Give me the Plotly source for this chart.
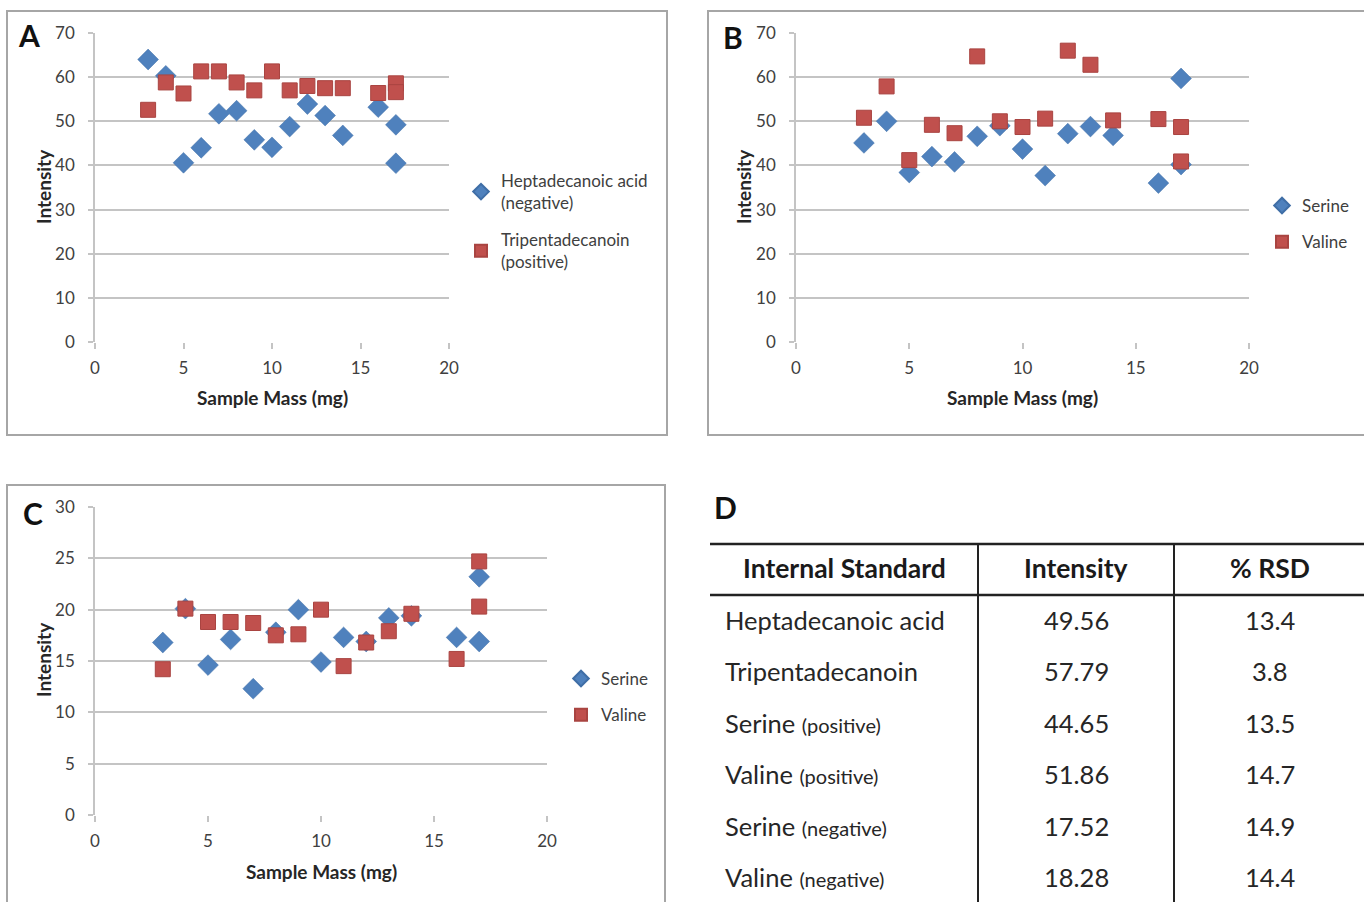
import plotly.graph_objects as go

W, H = 1364, 902

# ---------------- data ----------------
# Panel A
a_hep_x = [3, 4, 5, 6, 7, 8, 9, 10, 11, 12, 13, 14, 16, 17, 17]
a_hep_y = [64.0, 60.3, 40.6, 44.0, 51.7, 52.4, 45.8, 44.1, 48.8, 53.9, 51.3, 46.8, 53.2, 49.2, 40.5]
a_tri_x = [3, 4, 5, 6, 7, 8, 9, 10, 11, 12, 13, 14, 16, 17, 17]
a_tri_y = [52.6, 58.8, 56.3, 61.3, 61.3, 58.8, 57.0, 61.3, 57.0, 58.0, 57.5, 57.5, 56.4, 58.6, 56.6]

# Panel B (positive mode)
b_ser_x = [3, 4, 5, 6, 7, 8, 9, 10, 11, 12, 13, 14, 16, 17, 17]
b_ser_y = [45.1, 50.0, 38.4, 42.0, 40.8, 46.6, 49.0, 43.7, 37.7, 47.2, 48.8, 46.8, 36.0, 59.7, 40.2]
b_val_x = [3, 4, 5, 6, 7, 8, 9, 10, 11, 12, 13, 14, 16, 17, 17]
b_val_y = [50.8, 57.9, 41.2, 49.2, 47.3, 64.7, 50.0, 48.7, 50.6, 66.0, 62.8, 50.2, 50.5, 48.7, 40.9]

# Panel C (negative mode)
c_ser_x = [3, 4, 5, 6, 7, 8, 9, 10, 11, 12, 13, 14, 16, 17, 17]
c_ser_y = [16.8, 20.1, 14.6, 17.1, 12.3, 17.8, 20.0, 14.9, 17.3, 16.9, 19.2, 19.4, 17.3, 23.2, 16.9]
c_val_x = [3, 4, 5, 6, 7, 8, 9, 10, 11, 12, 13, 14, 16, 17, 17]
c_val_y = [14.2, 20.1, 18.8, 18.8, 18.7, 17.5, 17.6, 20.0, 14.5, 16.8, 17.9, 19.6, 15.2, 24.7, 20.3]

# Panel D table
tbl_header = ["Internal Standard", "Intensity", "% RSD"]
tbl_name = ["Heptadecanoic acid", "Tripentadecanoin", "Serine", "Valine", "Serine", "Valine"]
tbl_mode = ["", "", "(positive)", "(positive)", "(negative)", "(negative)"]
tbl_intensity = ["49.56", "57.79", "44.65", "51.86", "17.52", "18.28"]
tbl_rsd = ["13.4", "3.8", "13.5", "14.7", "14.9", "14.4"]

# ---------------- styling ----------------
BLUE = "#4F81BD"
RED = "#C0504D"
GRID = "#C4C4C4"
FONT = "Lato"
TICKC = "#404040"

def px_x(p):
    return p / W

def px_y(p):
    return 1 - p / H

fig = go.Figure()

def add_pair(xa, ya, x1, y1, n1, x2, y2, n2, legend):
    fig.add_trace(go.Scatter(x=x1, y=y1, mode="markers", name=n1,
                             xaxis=xa, yaxis=ya, legend=legend, legendgroup=legend + "1",
                             marker=dict(symbol="diamond", size=16, color=BLUE,
                                         line=dict(color="#3F6EA6", width=0.5))))
    fig.add_trace(go.Scatter(x=x2, y=y2, mode="markers", name=n2,
                             xaxis=xa, yaxis=ya, legend=legend, legendgroup=legend + "2",
                             marker=dict(symbol="square", size=15, color=RED,
                                         line=dict(color="#A94441", width=1))))

add_pair("x", "y", a_hep_x, a_hep_y, "Heptadecanoic acid<br>(negative)",
         a_tri_x, a_tri_y, "Tripentadecanoin<br>(positive)", "legend")
add_pair("x2", "y2", b_ser_x, b_ser_y, "Serine", b_val_x, b_val_y, "Valine", "legend2")
add_pair("x3", "y3", c_ser_x, c_ser_y, "Serine", c_val_x, c_val_y, "Valine", "legend3")

def xaxis(dom, anchor):
    return dict(domain=dom, anchor=anchor, range=[0, 20], tickvals=[0, 5, 10, 15, 20],
                showgrid=False, zeroline=False, showline=False, automargin=False,
                ticks="outside", ticklen=6, tickcolor=GRID, tickwidth=1.5,
                tickfont=dict(family=FONT, size=17, color=TICKC), ticklabelstandoff=5,
                fixedrange=True)

def yaxis(dom, anchor, top, step):
    return dict(domain=dom, anchor=anchor, range=[0, top], dtick=step, tick0=0,
                showgrid=True, gridcolor=GRID, gridwidth=1.5, zeroline=False,
                showline=True, linecolor=GRID, linewidth=1.5, automargin=False,
                ticks="outside", ticklen=5, tickcolor=GRID, tickwidth=1.5,
                tickfont=dict(family=FONT, size=17, color=TICKC), ticklabelstandoff=10,
                fixedrange=True)

# plot areas (pixel positions)
A = dict(x0=95, x1=449, y0=33, y1=342)
B = dict(x0=796, x1=1249, y0=33, y1=342)
C = dict(x0=95, x1=547, y0=507, y1=815)

layout = dict(
    width=W, height=H, margin=dict(l=0, r=0, t=0, b=0, pad=0, autoexpand=False),
    paper_bgcolor="white", plot_bgcolor="white",
    font=dict(family=FONT, color="#262626"),
    xaxis=xaxis([px_x(A["x0"]), px_x(A["x1"])], "y"),
    yaxis=yaxis([px_y(A["y1"]), px_y(A["y0"])], "x", 70, 10),
    xaxis2=xaxis([px_x(B["x0"]), px_x(B["x1"])], "y2"),
    yaxis2=yaxis([px_y(B["y1"]), px_y(B["y0"])], "x2", 70, 10),
    xaxis3=xaxis([px_x(C["x0"]), px_x(C["x1"])], "y3"),
    yaxis3=yaxis([px_y(C["y1"]), px_y(C["y0"])], "x3", 30, 5),
)

def legend_at(xp, yp, gap):
    return dict(x=px_x(xp), y=px_y(yp), xanchor="left", yanchor="top",
                xref="paper", yref="paper",
                font=dict(family=FONT, size=17, color=TICKC),
                bgcolor="rgba(0,0,0,0)", itemsizing="constant", itemwidth=30,
                tracegroupgap=gap, traceorder="grouped", itemclick=False, itemdoubleclick=False)

layout["legend"] = legend_at(461, 163, 12)
layout["legend2"] = legend_at(1262, 188, 11)
layout["legend3"] = legend_at(561, 661, 11)

fig.update_layout(**layout)

shapes = []
# panel frames
for (x0, y0, x1, y1) in [(7, 11, 667, 435), (708, 11, 1372, 435), (7, 485, 665, 910)]:
    shapes.append(dict(type="rect", xref="paper", yref="paper",
                       x0=px_x(x0), x1=px_x(x1), y0=px_y(y1), y1=px_y(y0),
                       line=dict(color="#A6A6A6", width=2), fillcolor="rgba(0,0,0,0)"))

annotations = []
# panel labels
for lab, xp, yp in [("A", 29, 35), ("B", 733, 37), ("C", 33, 513), ("D", 725, 507)]:
    annotations.append(dict(text="<b>%s</b>" % lab, x=px_x(xp), y=px_y(yp), xref="paper", yref="paper",
                            showarrow=False, xanchor="center", yanchor="middle",
                            font=dict(family=FONT, size=30, color="#111111")))

# axis titles
for xp, yp in [(272, 398), (1022, 398), (321, 871)]:
    annotations.append(dict(text="<b>Sample Mass (mg)</b>", x=px_x(xp), y=px_y(yp), xref="paper", yref="paper",
                            showarrow=False, xanchor="center", yanchor="middle",
                            font=dict(family=FONT, size=19, color="#262626")))
for xp, yp in [(44, 187), (744, 187), (43, 660)]:
    annotations.append(dict(text="<b>Intensity</b>", x=px_x(xp), y=px_y(yp), xref="paper", yref="paper",
                            showarrow=False, xanchor="center", yanchor="middle", textangle=-90,
                            font=dict(family=FONT, size=19, color="#262626")))

# ---- table D ----
T_LEFT, T_RIGHT = 710, 1364
COL1, COL2 = 978, 1174
T_TOP, HEAD_BOT, T_BOT = 544, 595, 902
row_h = 51.5
shapes.append(dict(type="line", xref="paper", yref="paper", x0=px_x(T_LEFT), x1=px_x(T_RIGHT),
                   y0=px_y(T_TOP), y1=px_y(T_TOP), line=dict(color="#222222", width=2.5)))
shapes.append(dict(type="line", xref="paper", yref="paper", x0=px_x(T_LEFT), x1=px_x(T_RIGHT),
                   y0=px_y(HEAD_BOT), y1=px_y(HEAD_BOT), line=dict(color="#222222", width=2.5)))
for cx in (COL1, COL2):
    shapes.append(dict(type="line", xref="paper", yref="paper", x0=px_x(cx), x1=px_x(cx),
                       y0=px_y(T_TOP), y1=px_y(T_BOT), line=dict(color="#222222", width=2)))

head_y = 568
head_x = [844, 1076, 1270]
for hx, txt in zip(head_x, tbl_header):
    annotations.append(dict(text="<b>%s</b>" % txt, x=px_x(hx), y=px_y(head_y), xref="paper", yref="paper",
                            showarrow=False, xanchor="center", yanchor="middle",
                            font=dict(family=FONT, size=26.5, color="#1a1a1a")))

for i in range(len(tbl_name)):
    ry = 619.5 + i * row_h
    label = tbl_name[i]
    if tbl_mode[i]:
        label += " <span style='font-size:20px'>%s</span>" % tbl_mode[i]
    annotations.append(dict(text=label, x=px_x(723), y=px_y(ry), xref="paper", yref="paper",
                            showarrow=False, xanchor="left", yanchor="middle",
                            font=dict(family=FONT, size=25.5, color="#262626")))
    annotations.append(dict(text=tbl_intensity[i], x=px_x(1076), y=px_y(ry), xref="paper", yref="paper",
                            showarrow=False, xanchor="center", yanchor="middle",
                            font=dict(family=FONT, size=25.5, color="#262626")))
    annotations.append(dict(text=tbl_rsd[i], x=px_x(1270), y=px_y(ry), xref="paper", yref="paper",
                            showarrow=False, xanchor="center", yanchor="middle",
                            font=dict(family=FONT, size=25.5, color="#262626")))

fig.update_layout(shapes=shapes, annotations=annotations)

fig.write_html("out.html", config={"displayModeBar": False})
